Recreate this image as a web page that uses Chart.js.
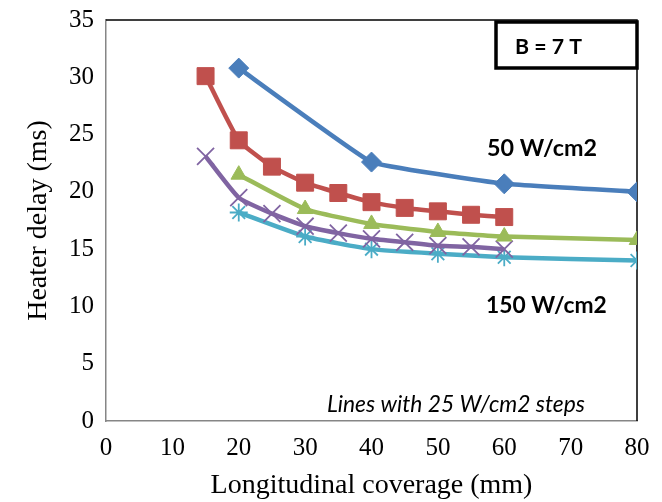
<!DOCTYPE html>
<html>
<head>
<meta charset="utf-8">
<script src="https://cdn.jsdelivr.net/npm/chart.js@4.4.0/dist/chart.umd.min.js"></script>
<style>
  html, body { margin: 0; padding: 0; background: #fff; }
  #wrap { width: 662px; height: 502px; }
</style>
</head>
<body>
<div id="wrap"><canvas id="delayChart" width="662" height="502"></canvas></div>
<script>
// values (x = coverage in mm, y = delay in ms)
var xBlue   = [20, 40, 60, 80];
var yBlue   = [30.8, 22.6, 20.7, 20.0];
var xRed    = [15, 20, 25, 30, 35, 40, 45, 50, 55, 60];
var yRed    = [30.1, 24.5, 22.2, 20.8, 19.9, 19.1, 18.6, 18.3, 18.0, 17.8];
var xGreen  = [20, 30, 40, 50, 60, 80];
var yGreen  = [21.5, 18.5, 17.2, 16.5, 16.1, 15.8];
var xPurple = [15, 20, 25, 30, 35, 40, 45, 50, 55, 60];
var yPurple = [23.1, 19.5, 18.1, 17.0, 16.4, 15.9, 15.6, 15.3, 15.2, 15.0];
var xCyan   = [20, 30, 40, 50, 60, 80];
var yCyan   = [18.2, 16.1, 15.0, 14.6, 14.3, 14.0];

var xTicks = [0, 10, 20, 30, 40, 50, 60, 70, 80];
var yTicks = [0, 5, 10, 15, 20, 25, 30, 35];

function pts(xs, ys) {
    return xs.map(function (x, i) { return {x: x, y: ys[i]}; });
}

function series(label, xs, ys, color, style, radius, tension) {
    return {
        label: label,
        data: pts(xs, ys),
        borderColor: color,
        backgroundColor: color,
        borderWidth: 4.5,
        pointStyle: style,
        pointRadius: radius,
        pointBorderWidth: style == 'crossRot' || style == 'star' ? 1.8 : 1,
        pointBorderColor: color,
        pointBackgroundColor: color,
        tension: tension,
        fill: false
    };
}

// pick a font size so the text gets the width it has in the picture
function fitText(c, text, style, family, width) {
    c.font = style + ' 20px ' + family;
    var size = 20 * width / c.measureText(text).width;
    c.font = style + ' ' + size.toFixed(1) + 'px ' + family;
}

var noteFont = 'Lato, "Open Sans", sans-serif';

// border of the plot area, the text notes and the B box
var notes = {
    id: 'notes',
    beforeDatasetsDraw: function (chart) {
        var a = chart.chartArea, c = chart.ctx;
        c.save();
        c.strokeStyle = '#000';
        c.lineWidth = 1.5;
        c.beginPath();
        c.moveTo(a.left, a.top);
        c.lineTo(a.right, a.top);
        c.lineTo(a.right, a.bottom);
        c.stroke();
        c.restore();
    },
    afterDraw: function (chart) {
        var a = chart.chartArea, c = chart.ctx;
        c.save();
        c.fillStyle = '#000';
        c.textBaseline = 'middle';
        c.textAlign = 'left';
        fitText(c, '50 W/cm2', 'bold', noteFont, 110);
        c.fillText('50 W/cm2', a.left + 381, a.top + 128);
        fitText(c, '150 W/cm2', 'bold', noteFont, 121);
        c.fillText('150 W/cm2', a.left + 380, a.top + 286);
        fitText(c, 'Lines with 25 W/cm2 steps', 'italic', noteFont, 258);
        c.fillText('Lines with 25 W/cm2 steps', a.left + 221, a.bottom - 16);

        // B = 7 T box
        var bx = a.right - 141, by = a.top + 2, bw = 141, bh = 46;
        c.fillStyle = '#fff';
        c.fillRect(bx, by, bw, bh);
        c.strokeStyle = '#000';
        c.lineWidth = 3.5;
        c.strokeRect(bx, by, bw, bh);
        c.fillStyle = '#000';
        fitText(c, 'B = 7 T', 'bold', noteFont, 67);
        c.fillText('B = 7 T', bx + 19, by + 25);
        c.restore();
    }
};

var ctx = document.getElementById('delayChart').getContext('2d');
var chart = new Chart(ctx, {
    type: 'line',
    data: {
        datasets: [
            series('50 W/cm2', xBlue, yBlue, '#4A7EBB', 'rectRot', 10, 0.08),
            series('75 W/cm2', xRed, yRed, '#C0504D', 'rect', 12, 0.15),
            series('100 W/cm2', xGreen, yGreen, '#9BBB59', 'triangle', 9, 0.15),
            series('125 W/cm2', xPurple, yPurple, '#8064A2', 'crossRot', 12, 0.15),
            series('150 W/cm2', xCyan, yCyan, '#4BACC6', 'star', 9, 0.15)
        ]
    },
    options: {
        responsive: false,
        animation: false,
        layout: { padding: { top: 18, right: 25, left: 8, bottom: 0 } },
        plugins: {
            legend: { display: false },
            tooltip: { enabled: false }
        },
        scales: {
            x: {
                type: 'linear',
                min: 0,
                max: 80,
                afterBuildTicks: function (ax) { ax.ticks = xTicks.map(function (v) { return {value: v}; }); },
                afterFit: function (ax) { ax.height = 81; },
                grid: { display: false, drawTicks: true, tickLength: 7, tickColor: '#868686' },
                border: { display: true, color: '#868686', width: 1.5 },
                ticks: { color: '#000', padding: 5, font: { family: '"Liberation Serif", serif', size: 25 } },
                title: {
                    display: true,
                    text: 'Longitudinal coverage (mm)',
                    color: '#000',
                    padding: { top: 0, bottom: 0 },
                    font: { family: '"Liberation Serif", serif', size: 28 }
                }
            },
            y: {
                type: 'linear',
                min: 0,
                max: 35,
                afterBuildTicks: function (ax) { ax.ticks = yTicks.map(function (v) { return {value: v}; }); },
                afterFit: function (ax) { ax.width = 98; },
                grid: { display: false, drawTicks: true, tickLength: 7, tickColor: '#868686' },
                border: { display: true, color: '#868686', width: 1.5 },
                ticks: { color: '#000', padding: 5, font: { family: '"Liberation Serif", serif', size: 25 } },
                title: {
                    display: true,
                    text: 'Heater delay (ms)',
                    color: '#000',
                    padding: { top: 14, bottom: 0 },
                    font: { family: '"Liberation Serif", serif', size: 28 }
                }
            }
        }
    },
    plugins: [notes]
});
</script>
</body>
</html>
